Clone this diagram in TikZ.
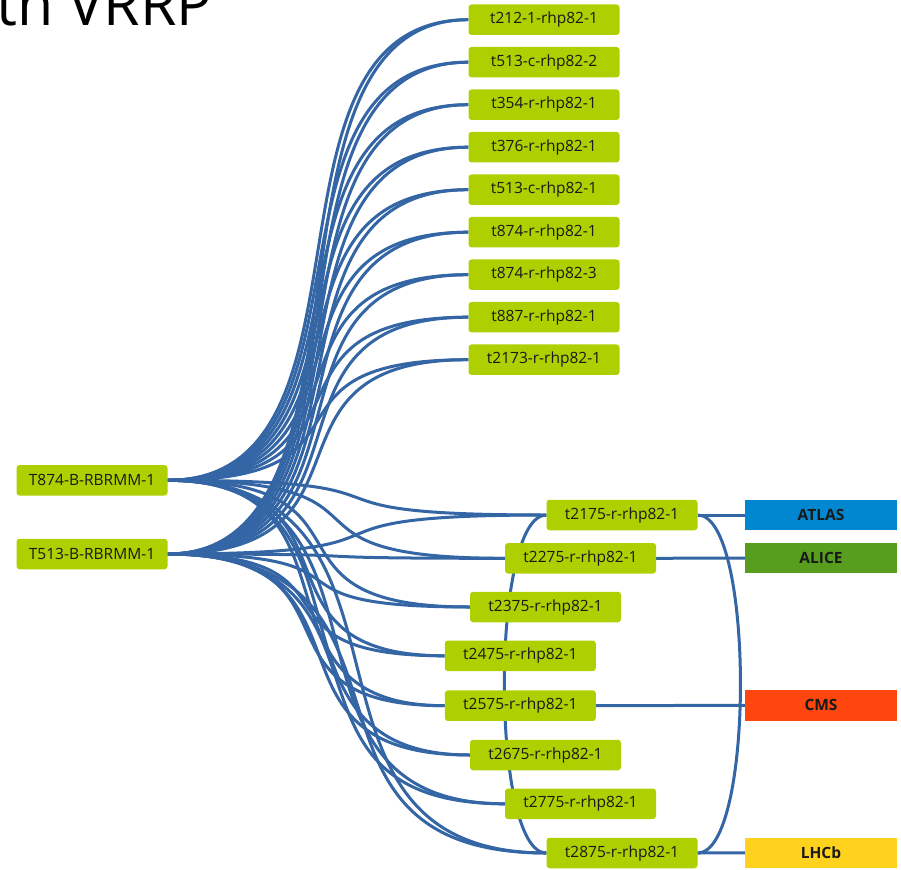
\documentclass[tikz,border=0pt]{standalone}
\usepackage{fontspec}
\setmainfont{Open Sans}
\usetikzlibrary{backgrounds,calc}
\definecolor{hostgreen}{RGB}{175,208,0}
\definecolor{linkblue}{RGB}{52,101,164}
\definecolor{atlascol}{RGB}{0,135,208}
\definecolor{alicecol}{RGB}{88,158,30}
\definecolor{cmscol}{RGB}{255,70,15}
\definecolor{lhcbcol}{RGB}{255,210,30}
\tikzset{
  host/.style={fill=hostgreen, rounded corners=3pt, minimum width=151pt,
    minimum height=30.5pt, inner sep=0pt, text=black!90,
    font=\fontsize{15.5}{18}\selectfont},
  expt/.style={minimum width=151.5pt, minimum height=30.5pt, inner sep=0pt,
    text=black!90, font=\bfseries\fontsize{15.5}{18}\selectfont},
  link/.style={draw=linkblue, line width=3pt},
}
\begin{document}
\begin{tikzpicture}[x=1pt,y=-1pt]
\useasboundingbox (0,0) rectangle (901,869);

% heading (partly outside the page)
\node[anchor=base west, inner sep=0pt, font=\fontsize{59}{62}\selectfont] (title) at (-4,26) {th VRRP};

% core routers
\node[host] (T874) at (92,480.3) {T874-B-RBRMM-1};
\node[host] (T513) at (92,554) {T513-B-RBRMM-1};

% rack switches, upper group
\node[host] (t212)   at (544,19.7)  {t212-1-rhp82-1};
\node[host] (t513c2) at (544,62.2)  {t513-c-rhp82-2};
\node[host] (t354)   at (544,104.7) {t354-r-rhp82-1};
\node[host] (t376)   at (544,147.2) {t376-r-rhp82-1};
\node[host] (t513c1) at (544,189.7) {t513-c-rhp82-1};
\node[host] (t874r1) at (544,232.2) {t874-r-rhp82-1};
\node[host] (t874r3) at (544,274.7) {t874-r-rhp82-3};
\node[host] (t887)   at (544,317.2) {t887-r-rhp82-1};
\node[host] (t2173)  at (544,359.7) {t2173-r-rhp82-1};

% rack switches, VRRP ring
\node[host] (t2175) at (622,515)   {t2175-r-rhp82-1};
\node[host] (t2275) at (580.5,558.3) {t2275-r-rhp82-1};
\node[host] (t2375) at (545.5,607) {t2375-r-rhp82-1};
\node[host] (t2475) at (520.3,655.8) {t2475-r-rhp82-1};
\node[host] (t2575) at (520.3,705.7) {t2575-r-rhp82-1};
\node[host] (t2675) at (545.5,755) {t2675-r-rhp82-1};
\node[host] (t2775) at (580.5,803.8) {t2775-r-rhp82-1};
\node[host] (t2875) at (622,853)   {t2875-r-rhp82-1};

% experiments
\node[expt, fill=atlascol] (atlas) at (821,515)   {ATLAS};
\node[expt, fill=alicecol] (alice) at (821,558)   {ALICE};
\node[expt, fill=cmscol]   (cms)   at (821,705.3) {CMS};
\node[expt, fill=lhcbcol]  (lhcb)  at (821,852.8) {LHCb};

\begin{scope}[on background layer]
  % S-shaped links, horizontal at both ends
  \foreach \t in {t212,t513c2,t354,t376,t513c1,t874r1,t874r3,t887,t2173,
                  t2175,t2275,t2375,t2475,t2575,t2675,t2775,t2875} {
    \foreach \s in {T874,T513} {
      \draw[link] let \p1=(\s.east), \p2=(\t.west), \n1={(\x2-\x1)*0.75} in
        (\s.east) .. controls +(\n1,0) and +(-\n1,0) .. (\t.west);
    }
  }
  % VRRP pair links
  \draw[link] (t2175.west) .. controls +(-56,0) and +(-56,0) .. (t2875.west);
  \draw[link] (t2175.east) .. controls +(57,0) and +(57,0) .. (t2875.east);
  % uplinks to the experiments
  \draw[link] (t2175.east) -- (atlas.west);
  \draw[link] (t2275.east) -- (alice.west);
  \draw[link] (t2575.east) -- (cms.west);
  \draw[link] (t2875.east) -- (lhcb.west);
\end{scope}
\end{tikzpicture}
\end{document}
